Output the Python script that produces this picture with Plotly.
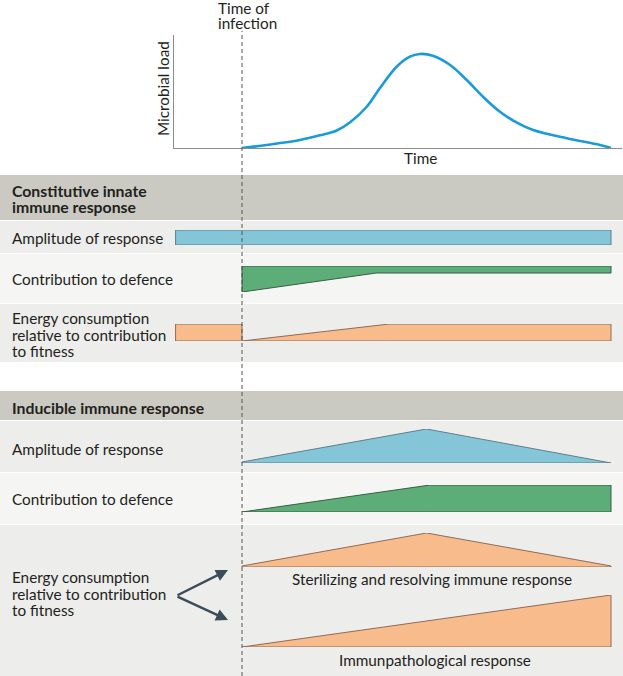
import plotly.graph_objects as go

W, H = 623, 676

# ---------------- data ----------------
# Top panel: microbial load over time (time 0 = infection, 100 = end)
load_time = [0, 6.7, 15.7, 21.1, 25.7, 29.3, 33.8, 37.4, 41.9, 45.5, 48.2, 51.7,
             56.4, 60.9, 65.3, 69.9, 74.5, 78.9, 88.0, 97.0, 100]
load_value = [0, 0.027, 0.071, 0.112, 0.155, 0.228, 0.365, 0.531, 0.719, 0.808, 0.832,
              0.817, 0.735, 0.602, 0.454, 0.321, 0.224, 0.159, 0.086, 0.027, 0]

# Constitutive innate immune response
const_amp_time = [-18, 100]
const_amp_value = [1, 1]
const_def_time = [0, 36.4, 100]
const_def_value = [1.0, 0.27, 0.27]          # thickness hanging from a constant top edge
const_energy_pre_time = [-18, 0]
const_energy_pre_value = [1, 1]
const_energy_time = [0, 40, 100]
const_energy_value = [0, 1, 1]

# Inducible immune response
ind_amp_time = [0, 50, 100]
ind_amp_value = [0.03, 1, 0]
ind_def_time = [0, 51, 100]
ind_def_value = [0, 1, 1]
steril_time = [0, 50, 100]
steril_value = [0.03, 1, 0.03]
immpath_time = [0, 100]
immpath_value = [0, 1]

row_labels = ["Amplitude of response", "Contribution to defence",
              ["Energy consumption", "relative to contribution", "to fitness"]]

# ---------------- helpers (layout geometry) ----------------
PPU = 3.69      # pixels per time unit
X0 = 242        # pixel of time 0


def t_of(px):
    return (px - X0) / PPU


def pxx(x):
    return x / W


def pyy(y):
    return 1 - y / H


BLUE_F, BLUE_L = "#84c6d8", "#5e7f8c"
GREEN_F, GREEN_L = "#5cad77", "#365f45"
ORANGE_F, ORANGE_L = "#f8bb8b", "#8d6c58"
TXT = "#231f20"
FONT = "Lato"

fig = go.Figure()

# top chart curve
fig.add_trace(go.Scatter(x=load_time, y=load_value, mode="lines",
                         line=dict(color="#1a9bd7", width=2.6, shape="spline", smoothing=1.0),
                         xaxis="x2", yaxis="y", hoverinfo="skip"))


def band(times, values, yaxis, color, lcolor, hang=False):
    if hang:
        top = [1] * len(times)
        bot = [1 - v for v in values]
    else:
        top = list(values)
        bot = [0] * len(times)
    xs = list(times) + list(times[::-1]) + [times[0]]
    ys = top + bot[::-1] + [top[0]]
    fig.add_trace(go.Scatter(x=xs, y=ys, mode="lines", fill="toself", fillcolor=color,
                             line=dict(color=lcolor, width=1), xaxis="x", yaxis=yaxis,
                             hoverinfo="skip"))


band(const_amp_time, const_amp_value, "y2", BLUE_F, BLUE_L)
band(const_def_time, const_def_value, "y3", GREEN_F, GREEN_L, hang=True)
band(const_energy_pre_time, const_energy_pre_value, "y4", ORANGE_F, ORANGE_L)
band(const_energy_time, const_energy_value, "y4", ORANGE_F, ORANGE_L)
band(ind_amp_time, ind_amp_value, "y5", BLUE_F, BLUE_L)
band(ind_def_time, ind_def_value, "y6", GREEN_F, GREEN_L)
band(steril_time, steril_value, "y7", ORANGE_F, ORANGE_L)
band(immpath_time, immpath_value, "y8", ORANGE_F, ORANGE_L)

hidden = dict(visible=False, fixedrange=True)
row_domains = {  # pixel (bottom, top)
    "yaxis2": (245, 230),
    "yaxis3": (292, 266),
    "yaxis4": (341, 324),
    "yaxis5": (463, 429),
    "yaxis6": (512, 485),
    "yaxis7": (567, 533),
    "yaxis8": (647, 595),
}
layout_axes = {}
for name, (b, t) in row_domains.items():
    layout_axes[name] = dict(domain=[pyy(b), pyy(t)], range=[0, 1], anchor="x", **hidden)

shapes = []


def rect(y0, y1, color):
    shapes.append(dict(type="rect", xref="paper", yref="paper", x0=0, x1=1,
                       y0=pyy(y1), y1=pyy(y0), fillcolor=color, line=dict(width=0),
                       layer="below"))


HEAD = "#cacac2"
ROW_A = "#ededeb"
ROW_B = "#f5f5f3"
rect(175, 220, HEAD)
rect(221, 253, ROW_A)
rect(254, 303, ROW_B)
rect(304, 362, ROW_A)
rect(391, 420, HEAD)
rect(421, 472, ROW_A)
rect(473, 524, ROW_B)
rect(525, 676, ROW_A)

# time-of-infection dashed line
shapes.append(dict(type="line", xref="x", yref="paper", x0=0, x1=0,
                   y0=pyy(676), y1=pyy(31), line=dict(color="#555555", width=1, dash="4px,3px"),
                   layer="above"))

ann = []


def text(x, y, s, size=15.3, anchor="left", bold=False, angle=0):
    ann.append(dict(x=pxx(x), y=pyy(y), xref="paper", yref="paper", text=f"<b>{s}</b>" if bold else s,
                    showarrow=False, xanchor=anchor, yanchor="middle", textangle=angle,
                    font=dict(family=FONT, size=size, color=TXT)))


text(216, 8, "Time of")
text(216, 23, "infection")
text(163, 89, "Microbial load", anchor="center", angle=-90)
text(420, 158, "Time", anchor="center")

text(10, 190, "Constitutive innate", bold=True, size=15.8)
text(10, 206, "immune response", bold=True, size=15.8)
text(10, 238, row_labels[0])
text(10, 279, row_labels[1])
for i, s in enumerate(row_labels[2]):
    text(10, 318 + 16.7 * i, s)

text(10, 407, "Inducible immune response", bold=True, size=15.8)
text(10, 449, row_labels[0])
text(10, 499, row_labels[1])
for i, s in enumerate(row_labels[2]):
    text(10, 577 + 16.7 * i, s)

text(432, 579, "Sterilizing and resolving immune response", anchor="center")
text(435, 660, "Immunpathological response", anchor="center")

# branching arrows
for tip_y in (570, 620):
    ann.append(dict(x=pxx(228), y=pyy(tip_y), xref="paper", yref="paper", text="",
                    showarrow=True, ax=176 - 228, ay=596 - tip_y, arrowhead=2, arrowsize=1,
                    arrowwidth=2.4, arrowcolor="#3b4d59", standoff=0, startstandoff=0))

fig.update_layout(
    width=W, height=H, margin=dict(l=0, r=0, t=0, b=0),
    paper_bgcolor="white", plot_bgcolor="rgba(0,0,0,0)", showlegend=False,
    xaxis=dict(domain=[0, 1], range=[t_of(0), t_of(W)], **hidden),
    xaxis2=dict(domain=[pxx(174), pxx(622)], range=[t_of(174), t_of(622)], anchor="y",
                showline=True, linecolor="#8c8c8c", linewidth=1, showticklabels=False,
                ticks="", showgrid=False, zeroline=False, fixedrange=True),
    yaxis=dict(domain=[pyy(148), pyy(35)], range=[0, 1], anchor="x2",
               showline=True, linecolor="#8c8c8c", linewidth=1, showticklabels=False,
               ticks="", showgrid=False, zeroline=False, fixedrange=True),
    shapes=shapes, annotations=ann,
    **layout_axes,
)

fig.write_html("out.html", config={"displayModeBar": False},
               post_script="document.body.style.margin='0';")
